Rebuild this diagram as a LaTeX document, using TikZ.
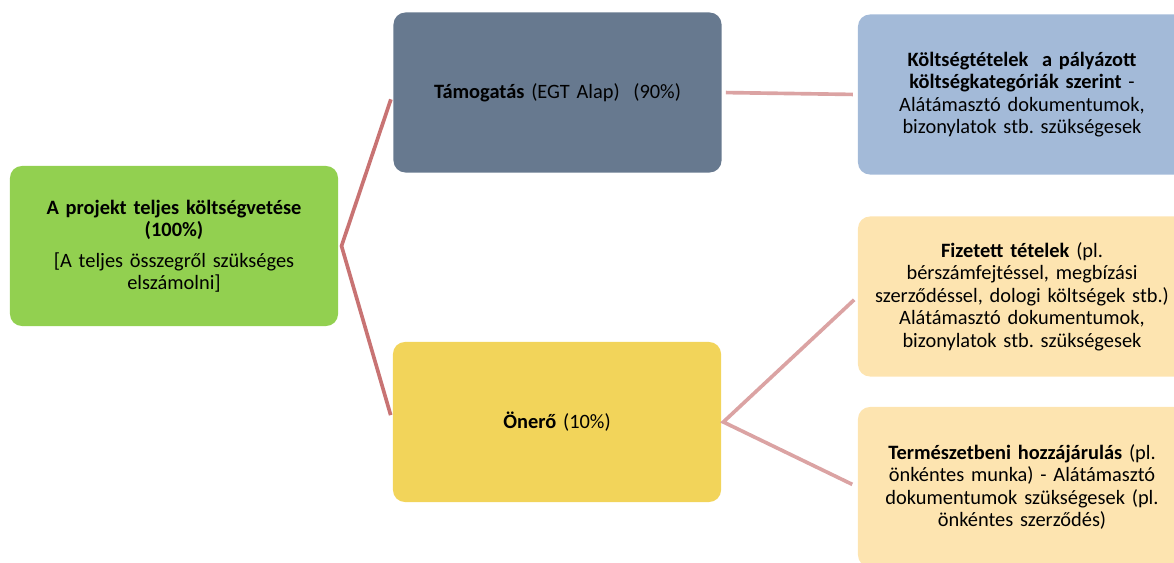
\documentclass[tikz,border=0pt]{standalone}
\usepackage{fontspec}
\setmainfont{Carlito}
\usepackage{tikz}

\definecolor{rootgreen}{HTML}{92D050}
\definecolor{slate}{HTML}{67798F}
\definecolor{sun}{HTML}{F2D45A}
\definecolor{paleblue}{HTML}{A3BAD8}
\definecolor{peach}{HTML}{FDE4B0}
\definecolor{linedark}{HTML}{C87373}
\definecolor{linelight}{HTML}{DBA3A3}

\begin{document}
\frenchspacing
\begin{tikzpicture}[x=0.025cm,y=-0.025cm,
	box/.style={rounded corners=0.3cm, minimum width=8.2cm, minimum height=4cm, text width=7.8cm, align=center, inner sep=0pt, font=\fontsize{14.5}{16}\selectfont},
	rootline/.style={draw=linedark, line width=2.6pt},
	subline/.style={draw=linelight, line width=2.6pt}]
\useasboundingbox (0,0) rectangle (1174,562);
\node [box, fill=rootgreen] (root) at (174,246) {\textbf{A projekt teljes költségvetése}\\\textbf{(100\%)}\\[0.2cm] [A teljes összegről szükséges\\elszámolni]};
\node [box, fill=slate] (tam) at (557.5,92.5) {\textbf{Támogatás} (EGT Alap)\ \ (90\%)};
\node [box, fill=sun] (oner) at (557,422) {\textbf{Önerő} (10\%)};
\begin{scope}
\clip (0,0) rectangle (1174,562);
\node [box, fill=paleblue] (kolt) at (1022,94.5) {\textbf{Költségtételek\ \ a pályázott}\\\textbf{költségkategóriák szerint} -\\Alátámasztó dokumentumok,\\bizonylatok stb. szükségesek};
\node [box, fill=peach] (fiz) at (1022,296.5) {\textbf{Fizetett tételek} (pl.\\bérszámfejtéssel, megbízási\\szerződéssel, dologi költségek stb.)\\Alátámasztó dokumentumok,\\bizonylatok stb. szükségesek};
\node [box, fill=peach] (term) at (1022,487) {\textbf{Természetbeni hozzájárulás} (pl.\\önkéntes munka) - Alátámasztó\\dokumentumok szükségesek (pl.\\önkéntes szerződés)};
\end{scope}
% connectors
\draw [rootline, shorten <=0.18cm, shorten >=0.18cm] (tam.west) -- ([xshift=0.08cm]root.east) -- (oner.west);
\draw [subline, shorten <=0.1cm, shorten >=0.12cm] (tam.east) -- (kolt.west);
\draw [subline, shorten <=0.12cm, shorten >=0.15cm] (fiz.west) -- ([xshift=0.05cm]oner.east) -- (term.west);
\end{tikzpicture}
\end{document}
